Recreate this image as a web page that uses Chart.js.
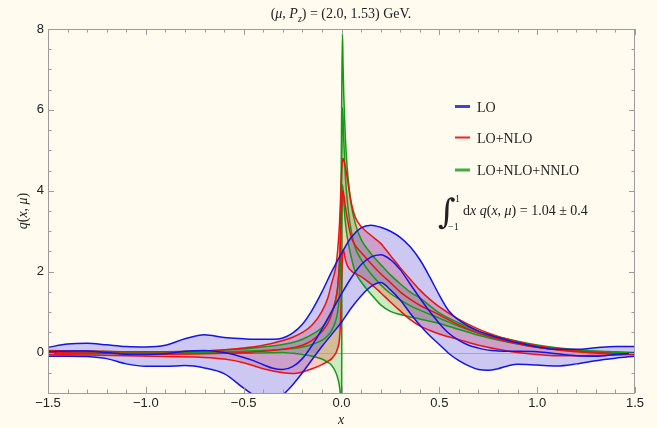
<!DOCTYPE html>
<html>
<head>
<meta charset="utf-8">
<script src="https://cdn.jsdelivr.net/npm/chart.js@4.4.1/dist/chart.umd.min.js"></script>
<style>
  html, body { margin: 0; padding: 0; background: #fffbef; }
  canvas { display: block; }
</style>
</head>
<body>
<canvas id="pdfChart" width="657" height="428"></canvas>
<script>
// quasi-PDF q(x, mu) bands: upper / central / lower curve for each perturbative order

const loX = [-1.5, -1.4, -1.3, -1.2, -1.1, -1.0, -0.9, -0.8, -0.7, -0.6, -0.5,
  -0.45, -0.4, -0.35, -0.3, -0.25, -0.2, -0.15, -0.1, -0.05, 0, 0.05, 0.1, 0.15, 0.2,
  0.25, 0.3, 0.35, 0.4, 0.45, 0.5, 0.55, 0.6, 0.65, 0.7, 0.75, 0.8, 0.85, 0.9,
  1.0, 1.1, 1.2, 1.3, 1.4, 1.5];
const loUpper = [0.13, 0.21, 0.23, 0.19, 0.15, 0.14, 0.18, 0.34, 0.44, 0.37, 0.34,
  0.33, 0.33, 0.33, 0.36, 0.48, 0.7, 1.05, 1.5, 2.0, 2.45, 2.85, 3.08, 3.15, 3.1,
  3.0, 2.85, 2.62, 2.3, 1.88, 1.42, 1.02, 0.8, 0.65, 0.53, 0.44, 0.37, 0.3, 0.24,
  0.14, 0.08, 0.08, 0.12, 0.15, 0.15];
const loCentral = [0.02, 0.04, 0.04, 0.0, -0.04, -0.05, -0.03, 0.03, 0.05, 0.0, -0.12,
  -0.2, -0.3, -0.39, -0.42, -0.35, -0.15, 0.18, 0.58, 1.02, 1.45, 1.85, 2.17, 2.36, 2.42,
  2.3, 2.05, 1.7, 1.35, 1.02, 0.72, 0.47, 0.3, 0.18, 0.11, 0.06, 0.04, 0.03, 0.03,
  0.02, -0.03, -0.08, -0.09, -0.05, -0.01];
const loLower = [-0.09, -0.09, -0.1, -0.15, -0.28, -0.34, -0.34, -0.32, -0.38, -0.52, -0.88,
  -1.05, -1.2, -1.25, -1.05, -0.8, -0.5, -0.17, 0.15, 0.45, 0.75, 1.1, 1.4, 1.63, 1.73,
  1.55, 1.3, 0.98, 0.68, 0.42, 0.2, -0.03, -0.2, -0.33, -0.42, -0.44, -0.4, -0.33, -0.29,
  -0.31, -0.33, -0.28, -0.2, -0.14, -0.09];

const nloX = [-1.5, -1.3, -1.1, -0.9, -0.7, -0.6, -0.5, -0.4, -0.3, -0.25, -0.2, -0.15, -0.1,
  -0.07, -0.05, -0.03, -0.02, -0.01, -0.004, 0, 0.004, 0.008, 0.012, 0.02, 0.03,
  0.05, 0.07, 0.1, 0.15, 0.2, 0.25, 0.3, 0.35, 0.4, 0.45, 0.5,
  0.6, 0.7, 0.8, 0.9, 1.0, 1.1, 1.2, 1.3, 1.4, 1.5];
const nloUpper = [0.05, 0.04, 0.02, 0.02, 0.04, 0.07, 0.11, 0.18, 0.3, 0.38, 0.5, 0.68, 1.02,
  1.35, 1.72, 2.1, 2.5, 3.2, 3.9, 4.4, 4.7, 4.8, 4.75, 4.6, 4.3,
  3.7, 3.35, 3.12, 2.9, 2.7, 2.4, 2.1, 1.82, 1.55, 1.32, 1.13,
  0.82, 0.58, 0.4, 0.27, 0.17, 0.1, 0.04, 0.0, -0.03, -0.05];
const nloCentral = [0.0, -0.01, -0.03, -0.04, -0.03, -0.02, 0.0, 0.03, 0.08, 0.12, 0.18, 0.3, 0.52,
  0.72, 0.95, 1.3, 1.6, 2.2, 2.9, 3.5, 3.9, 4.0, 3.9, 3.6, 3.3,
  2.85, 2.65, 2.48, 2.2, 1.95, 1.73, 1.5, 1.32, 1.17, 1.05, 0.93,
  0.68, 0.48, 0.33, 0.22, 0.13, 0.07, 0.02, -0.01, -0.03, -0.04];
const nloLower = [-0.05, -0.06, -0.08, -0.1, -0.12, -0.16, -0.25, -0.4, -0.5, -0.52, -0.48, -0.4, -0.3,
  -0.22, -0.15, -0.02, 0.1, 0.35, 0.9, 1.6, 2.3, 2.55, 2.5, 2.3, 2.15,
  2.02, 1.95, 1.88, 1.7, 1.48, 1.25, 1.03, 0.82, 0.66, 0.55, 0.46,
  0.32, 0.18, 0.08, 0.0, -0.05, -0.08, -0.08, -0.07, -0.06, -0.05];

const nnloX = [-1.5, -1.3, -1.1, -0.9, -0.7, -0.5, -0.4, -0.3, -0.25, -0.2, -0.15, -0.1,
  -0.07, -0.05, -0.03, -0.02, -0.01, -0.005, -0.002, 0, 0.002, 0.005, 0.008, 0.012, 0.018, 0.025, 0.035,
  0.05, 0.07, 0.1, 0.15, 0.2, 0.25, 0.3, 0.35, 0.4, 0.5, 0.6, 0.7, 0.8, 0.9, 1.0,
  1.1, 1.2, 1.3, 1.4, 1.5];
const nnloUpper = [0.03, 0.03, 0.02, 0.02, 0.04, 0.09, 0.14, 0.2, 0.25, 0.33, 0.45, 0.62,
  0.82, 1.0, 1.3, 1.6, 2.3, 3.2, 4.3, 5.5, 6.8, 7.9, 7.1, 6.3, 5.5, 4.85, 4.25,
  3.65, 3.2, 2.8, 2.45, 2.18, 1.92, 1.7, 1.5, 1.35, 0.98, 0.73, 0.53, 0.39, 0.28, 0.19,
  0.12, 0.07, 0.04, 0.02, 0.0];
const nnloCentral = [0.0, 0.0, -0.01, -0.01, 0.0, 0.03, 0.05, 0.08, 0.1, 0.14, 0.2, 0.3,
  0.42, 0.55, 0.78, 1.0, 1.5, 2.2, 3.0, 4.0, 5.0, 6.05, 5.8, 5.2, 4.5, 4.0, 3.5,
  3.0, 2.6, 2.3, 1.95, 1.68, 1.46, 1.3, 1.16, 1.05, 0.85, 0.65, 0.48, 0.34, 0.23, 0.15,
  0.09, 0.05, 0.02, 0.0, -0.01];
const nnloLower = [-0.03, -0.03, -0.02, -0.02, -0.02, -0.02, -0.01, 0.0, -0.02, -0.05, -0.09, -0.16,
  -0.24, -0.32, -0.48, -0.62, -0.85, -1.15, -1.8, -3.0, 2.2, 4.15, 4.0, 3.7, 3.3, 3.0, 2.7,
  2.35, 2.0, 1.75, 1.45, 1.18, 1.02, 0.94, 0.88, 0.83, 0.72, 0.57, 0.43, 0.31, 0.21, 0.13,
  0.07, 0.03, 0.0, -0.02, -0.03];

const xTickValues = [-1.5, -1.0, -0.5, 0.0, 0.5, 1.0, 1.5];
const yTickValues = [0, 2, 4, 6, 8];
const legendLabels = ['LO', 'LO+NLO', 'LO+NLO+NNLO'];

const BLUE = '#1414e6', RED = '#e81414', GREEN = '#159a15';
const SERIF = '"Liberation Serif", "Times New Roman", serif';
const SANS = '"Liberation Sans", Arial, sans-serif';

function pts(xs, ys) {
  return xs.map((x, i) => ({ x: x, y: ys[i] }));
}

function curve(xs, ys, color, fillTo, fillColor) {
  return {
    data: pts(xs, ys),
    borderColor: color,
    borderWidth: 1.5,
    backgroundColor: fillColor || 'transparent',
    fill: fillTo === undefined ? false : fillTo,
    pointRadius: 0,
    cubicInterpolationMode: 'monotone'
  };
}

// text with italic / subscript pieces, e.g. math symbols
function drawRich(ctx, x, y, parts, size, align) {
  const fontFor = s => (s === 'n' ? '' : 'italic ') +
    (s === 'sub' || s === 'sup' ? Math.round(size * 0.7) : size) + 'px ' + SERIF;
  let total = 0;
  parts.forEach(([t, s]) => { ctx.font = fontFor(s); total += ctx.measureText(t).width; });
  let cx = align === 'center' ? x - total / 2 : x;
  ctx.textAlign = 'left';
  ctx.textBaseline = 'alphabetic';
  parts.forEach(([t, s]) => {
    ctx.font = fontFor(s);
    const dy = s === 'sub' ? size * 0.25 : (s === 'sup' ? -size * 0.4 : 0);
    ctx.fillText(t, cx, y + dy);
    cx += ctx.measureText(t).width;
  });
}

const bgPlugin = {
  id: 'bg',
  beforeDraw(chart) {
    const ctx = chart.ctx;
    ctx.save();
    ctx.fillStyle = '#fffbef';
    ctx.fillRect(0, 0, chart.width, chart.height);
    ctx.restore();
  }
};

// zero axis under the curves, frame with inside ticks on top
const framePlugin = {
  id: 'frame',
  beforeDatasetsDraw(chart) {
    const { ctx, chartArea: a, scales: { y } } = chart;
    const y0 = Math.round(y.getPixelForValue(0)) + 0.5;
    ctx.save();
    ctx.strokeStyle = '#a8a8a8';
    ctx.lineWidth = 1;
    ctx.beginPath();
    ctx.moveTo(a.left, y0);
    ctx.lineTo(a.right, y0);
    ctx.stroke();
    ctx.restore();
  },
  afterDraw(chart) {
    const { ctx, chartArea: a, scales: { x, y } } = chart;
    ctx.save();
    ctx.strokeStyle = '#9c9c9c';
    ctx.lineWidth = 1;
    ctx.strokeRect(Math.round(a.left) + 0.5, Math.round(a.top) + 0.5,
      Math.round(a.right - a.left) - 1, Math.round(a.bottom - a.top));
    ctx.beginPath();
    for (let i = -15; i <= 15; i++) {
      const px = Math.round(x.getPixelForValue(i / 10)) + 0.5;
      const len = i % 5 === 0 ? 6 : 3.5;
      ctx.moveTo(px, a.bottom); ctx.lineTo(px, a.bottom - len);
      ctx.moveTo(px, a.top); ctx.lineTo(px, a.top + len);
    }
    for (let k = -2; k <= 16; k++) {
      const py = Math.round(y.getPixelForValue(k / 2)) + 0.5;
      const len = k % 4 === 0 ? 6 : 3.5;
      ctx.moveTo(a.left, py); ctx.lineTo(a.left + len, py);
      ctx.moveTo(a.right, py); ctx.lineTo(a.right - len, py);
    }
    ctx.stroke();
    ctx.restore();
  }
};

const textPlugin = {
  id: 'texts',
  afterDraw(chart) {
    const ctx = chart.ctx;
    ctx.save();
    ctx.fillStyle = '#222';

    drawRich(ctx, 341, 18, [['(', 'n'], ['μ', 'i'], [', ', 'n'], ['P', 'i'], ['z', 'sub'],
      [') = (2.0, 1.53) GeV.', 'n']], 14, 'center');

    drawRich(ctx, 341, 424, [['x', 'i']], 14, 'center');

    ctx.save();
    ctx.translate(27, 211);
    ctx.rotate(-Math.PI / 2);
    drawRich(ctx, 0, 0, [['q', 'i'], ['(', 'n'], ['x', 'i'], [', ', 'n'], ['μ', 'i'], [')', 'n']], 14, 'center');
    ctx.restore();

    // legend
    const swatch = ['#4343cf', '#ef2525', '#3fae3f'];
    const rows = [106.5, 137.5, 170];
    legendLabels.forEach((label, i) => {
      ctx.strokeStyle = swatch[i];
      ctx.lineWidth = i === 1 ? 2 : 3;
      ctx.beginPath();
      ctx.moveTo(455, rows[i]);
      ctx.lineTo(470, rows[i]);
      ctx.stroke();
      drawRich(ctx, 477, rows[i] + 5, [[label, 'n']], 14, 'left');
    });

    // normalisation integral
    ctx.font = '34px "DejaVu Serif"';
    ctx.textAlign = 'left';
    ctx.fillText('∫', 438, 223);
    drawRich(ctx, 455, 202, [['1', 'n']], 10, 'left');
    drawRich(ctx, 448, 230, [['−1', 'n']], 10, 'left');
    drawRich(ctx, 463, 215, [['d', 'n'], ['x', 'i'], [' ', 'n'], ['q', 'i'], ['(', 'n'], ['x', 'i'],
      [', ', 'n'], ['μ', 'i'], [') = 1.04 ± 0.4', 'n']], 14, 'left');
    ctx.restore();
  }
};

new Chart(document.getElementById('pdfChart'), {
  type: 'line',
  data: {
    datasets: [
      curve(loX, loUpper, BLUE, 2, 'rgba(0, 0, 255, 0.2)'),
      curve(loX, loCentral, BLUE),
      curve(loX, loLower, BLUE),
      curve(nloX, nloUpper, RED, 5, 'rgba(255, 0, 0, 0.2)'),
      curve(nloX, nloCentral, RED),
      curve(nloX, nloLower, RED),
      curve(nnloX, nnloUpper, GREEN, 8, 'rgba(0, 170, 0, 0.2)'),
      curve(nnloX, nnloCentral, GREEN),
      curve(nnloX, nnloLower, GREEN)
    ]
  },
  options: {
    responsive: false,
    animation: false,
    layout: { padding: { top: 29, right: 22, left: 0, bottom: 0 } },
    plugins: {
      legend: { display: false },
      tooltip: { enabled: false },
      filler: { drawTime: 'beforeDatasetsDraw' }
    },
    scales: {
      x: {
        type: 'linear',
        min: -1.5,
        max: 1.5,
        afterFit: s => { s.height = 35; },
        afterBuildTicks: s => { s.ticks = xTickValues.map(v => ({ value: v })); },
        grid: { display: false, drawTicks: false },
        border: { display: false },
        ticks: {
          padding: 3,
          maxRotation: 0,
          autoSkip: false,
          color: '#222',
          font: { family: SANS, size: 13 },
          callback: v => v.toFixed(1).replace('-', '−')
        }
      },
      y: {
        type: 'linear',
        min: -1,
        max: 8,
        afterFit: s => { s.width = 48; },
        afterBuildTicks: s => { s.ticks = yTickValues.map(v => ({ value: v })); },
        grid: { display: false, drawTicks: false },
        border: { display: false },
        ticks: {
          padding: 4,
          color: '#222',
          font: { family: SANS, size: 13 },
          callback: v => String(v)
        }
      }
    }
  },
  plugins: [bgPlugin, framePlugin, textPlugin]
});
</script>
</body>
</html>
